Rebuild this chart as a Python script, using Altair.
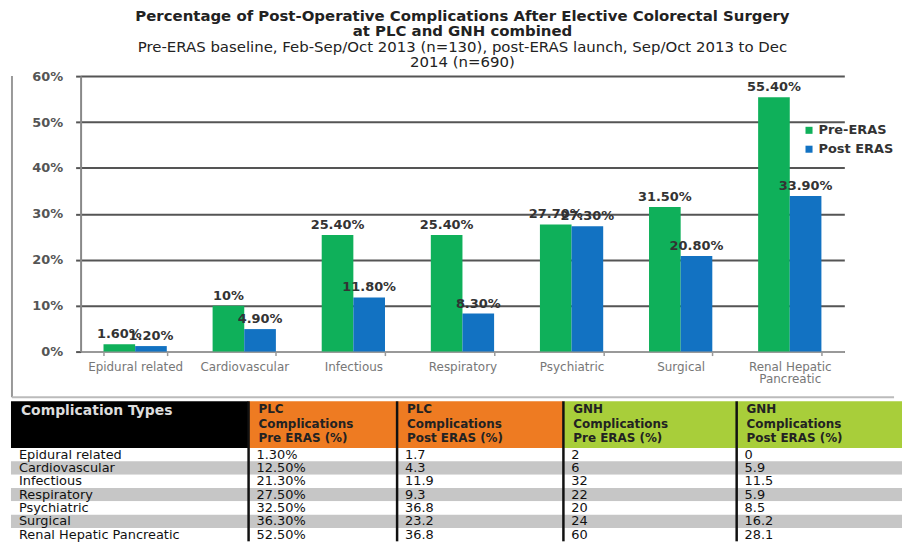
import altair as alt
import pandas as pd

# ---------------- data ----------------
categories = ["Epidural related", "Cardiovascular", "Infectious", "Respiratory",
              "Psychiatric", "Surgical", "Renal Hepatic Pancreatic"]
pre_eras = [1.6, 10, 25.4, 25.4, 27.7, 31.5, 55.4]
post_eras = [1.2, 4.9, 11.8, 8.3, 27.3, 20.8, 33.9]
series = ["Pre-ERAS", "Post ERAS"]
y_ticks = [0, 10, 20, 30, 40, 50, 60]

title_lines = ["Percentage of Post-Operative Complications After Elective Colorectal Surgery",
               "at PLC and GNH  combined"]
subtitle_lines = ["Pre-ERAS baseline, Feb-Sep/Oct 2013 (n=130), post-ERAS launch, Sep/Oct 2013 to Dec",
                  "2014 (n=690)"]

table_headers = ["Complication Types",
                 "PLC\nComplications\nPre ERAS (%)",
                 "PLC\nComplications\nPost ERAS (%)",
                 "GNH\nComplications\nPre ERAS (%)",
                 "GNH\nComplications\nPost ERAS (%)"]
table_types = ["Epidural related", "Cardiovascular", "Infectious", "Respiratory",
               "Psychiatric", "Surgical", "Renal Hepatic Pancreatic"]
plc_pre = ["1.30%", "12.50%", "21.30%", "27.50%", "32.50%", "36.30%", "52.50%"]
plc_post = ["1.7", "4.3", "11.9", "9.3", "36.8", "23.2", "36.8"]
gnh_pre = ["2", "6", "32", "22", "20", "24", "60"]
gnh_post = ["0", "5.9", "11.5", "5.9", "8.5", "16.2", "28.1"]

# ---------------- styles / layout ----------------
FONT = "DejaVu Sans"
series_colors = ["#0FB05A", "#1272C2"]
header_fills = ["#000000", "#EE7B22", "#EE7B22", "#A8CE3A", "#A8CE3A"]
header_text_colors = ["#DDDDDD", "#222222", "#222222", "#222222", "#222222"]
header_font_sizes = [14, 12, 12, 12, 12]
row_fills = ["#FFFFFF", "#C6C6C6"]
W, H = 768, 277
LEFT = 69                      # distance from chart frame to plot area
COL_EDGES = [10, 250, 400, 568, 743, 910]
TBL_RANGE = [-LEFT - 1, 826]   # table spans from frame to right edge
HEADER_H, ROW_H = 47, 13.4
TBL_H = HEADER_H + 7 * ROW_H


def pct(v):
    return f"{v:.0f}%" if float(v).is_integer() else f"{v:.2f}%"


rows = []
for c, a, b in zip(categories, pre_eras, post_eras):
    rows.append(dict(Category=c, Series=series[0], Value=a, Label=pct(a)))
    rows.append(dict(Category=c, Series=series[1], Value=b, Label=pct(b)))
df = pd.DataFrame(rows)

base = alt.Chart(df).encode(
    x=alt.X("Category:N", sort=categories,
            scale=alt.Scale(paddingInner=0.42, paddingOuter=0.21),
            axis=alt.Axis(title=None, labelAngle=0, labelFont=FONT, labelFontSize=12,
                          labelColor="#777", labelPadding=6, tickBand="extent",
                          tickSize=4, tickColor="#999", tickWidth=1.5,
                          domainColor="#999", domainWidth=2, labelLineHeight=12,
                          labelExpr="datum.label == 'Renal Hepatic Pancreatic' ? ['Renal Hepatic', 'Pancreatic'] : datum.label")),
    xOffset=alt.XOffset("Series:N", sort=series,
                        scale=alt.Scale(paddingInner=0, paddingOuter=0)),
    y=alt.Y("Value:Q", scale=alt.Scale(domain=[0, 60], nice=False),
            axis=alt.Axis(title=None, values=y_ticks, labelExpr="datum.value + '%'",
                          labelFont=FONT, labelFontSize=13, labelFontWeight="bold",
                          labelColor="#555", labelPadding=13, gridColor="#555",
                          gridWidth=2, tickColor="#555", tickSize=5, tickWidth=2,
                          domainColor="#888", domainWidth=2)),
)

bars = base.mark_bar().encode(
    color=alt.Color("Series:N", sort=series,
                    scale=alt.Scale(domain=series, range=series_colors),
                    legend=alt.Legend(title=None, orient="none", legendX=726, legendY=48,
                                      symbolType="square", symbolSize=50,
                                      labelFont=FONT, labelFontSize=13,
                                      labelFontWeight="bold", labelColor="#333",
                                      rowPadding=5, labelOffset=3))
)
labels = base.mark_text(baseline="bottom", dy=-3, font=FONT, fontSize=13,
                        fontWeight="bold", color="#333").encode(text="Label:N")

frame_df = pd.DataFrame({"k": [0]})
frame_left = alt.Chart(frame_df).mark_rule(color="#999", strokeWidth=2).encode(
    x=alt.value(-LEFT), y=alt.value(0), y2=alt.value(H + 46))
frame_bottom = alt.Chart(frame_df).mark_rule(color="#bbb", strokeWidth=2).encode(
    x=alt.value(-LEFT), x2=alt.value(W + 50), y=alt.value(H + 46))

top = alt.layer(frame_left, frame_bottom, bars, labels).properties(
    width=W, height=H,
    title=alt.TitleParams(text=title_lines, subtitle=subtitle_lines, font=FONT,
                          fontSize=15, fontWeight="bold", color="#222",
                          subtitleFont=FONT, subtitleFontSize=15, subtitleColor="#222",
                          lineHeight=15, subtitleLineHeight=15, subtitlePadding=1,
                          offset=0, anchor="middle"),
)

# ---------------- table ----------------
n_rows = len(table_types)
columns = [table_types, plc_pre, plc_post, gnh_pre, gnh_post]

bg = pd.DataFrame([dict(x0=COL_EDGES[0], x1=COL_EDGES[-1],
                        y0=HEADER_H + i * ROW_H, y1=HEADER_H + (i + 1) * ROW_H,
                        fill=row_fills[i % 2]) for i in range(n_rows)])
hdr = pd.DataFrame([dict(x0=COL_EDGES[c], x1=COL_EDGES[c + 1], y0=0, y1=HEADER_H,
                         fill=header_fills[c], tx=COL_EDGES[c] + 10, ty=3,
                         text=table_headers[c], tcol=header_text_colors[c],
                         fsize=header_font_sizes[c])
                    for c in range(5)])
cells = pd.DataFrame([dict(tx=COL_EDGES[c] + 8, ty=HEADER_H + (i + 0.5) * ROW_H,
                           text=columns[c][i])
                      for c in range(5) for i in range(n_rows)])
seps = pd.DataFrame([dict(x0=COL_EDGES[c], y0=0, y1=TBL_H) for c in range(1, 5)])

xs = alt.Scale(domain=[COL_EDGES[0], COL_EDGES[-1]], range=TBL_RANGE)
ys = alt.Scale(domain=[0, TBL_H], range=[0, TBL_H])

bg_l = alt.Chart(bg).mark_rect().encode(
    x=alt.X("x0:Q", scale=xs, axis=None), x2="x1:Q",
    y=alt.Y("y0:Q", scale=ys, axis=None), y2="y1:Q",
    fill=alt.Fill("fill:N", scale=None))
hdr_l = alt.Chart(hdr).mark_rect().encode(
    x=alt.X("x0:Q", scale=xs, axis=None), x2="x1:Q",
    y=alt.Y("y0:Q", scale=ys, axis=None), y2="y1:Q",
    fill=alt.Fill("fill:N", scale=None))
hdr_t = alt.Chart(hdr).mark_text(align="left", baseline="top", lineBreak="\n",
                                 lineHeight=14.5, font=FONT,
                                 fontWeight="bold").encode(
    x=alt.X("tx:Q", scale=xs, axis=None), y=alt.Y("ty:Q", scale=ys, axis=None),
    text="text:N", color=alt.Color("tcol:N", scale=None),
    size=alt.Size("fsize:Q", scale=None))
cell_t = alt.Chart(cells).mark_text(align="left", baseline="middle", font=FONT,
                                    fontSize=13, color="#111").encode(
    x=alt.X("tx:Q", scale=xs, axis=None), y=alt.Y("ty:Q", scale=ys, axis=None),
    text="text:N")
sep_l = alt.Chart(seps).mark_rule(color="#111", strokeWidth=2.5).encode(
    x=alt.X("x0:Q", scale=xs, axis=None),
    y=alt.Y("y0:Q", scale=ys, axis=None), y2="y1:Q")

table = alt.layer(bg_l, hdr_l, sep_l, hdr_t, cell_t).properties(width=W, height=TBL_H)

chart = alt.vconcat(top, table, spacing=1).resolve_scale(
    x="independent", y="independent", color="independent"
).configure(
    padding={"left": 3, "top": 0, "right": 0, "bottom": 0},
).configure_view(stroke=None)

chart.save("out.html", embed_options={"renderer": "svg", "actions": False})
